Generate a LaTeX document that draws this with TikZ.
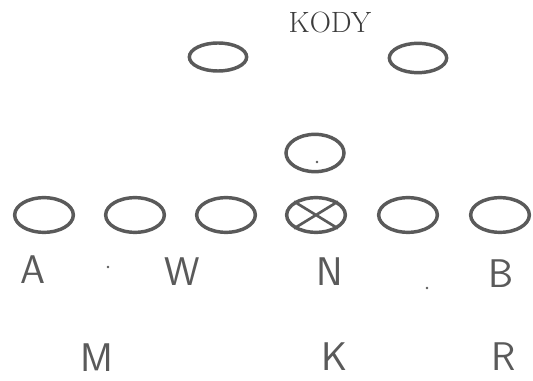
\documentclass[tikz,border=0pt]{standalone}
\usepackage{tikz}
\usetikzlibrary{shapes.geometric}
\definecolor{inkc}{HTML}{5A5A5A}
\definecolor{txtc}{HTML}{3C3C3C}
\tikzset{
  pl/.style={ellipse,draw=inkc,line width=2.6pt,inner sep=0pt,minimum width=44pt,minimum height=26pt},
  lb/.style={font=\sffamily\fontsize{30}{30}\selectfont,text=inkc,inner sep=0pt}
}
\newcommand{\spk}[2]{\fill[inkc] (#1,#2) circle (1pt);}

\begin{document}
\begin{tikzpicture}[x=0.75pt,y=-0.75pt]
\useasboundingbox (0,0) rectangle (533,381);
\node[font=\fontsize{22}{22}\selectfont,text=txtc,inner sep=0pt] (kody) at (330,22) {KODY};
\node[pl,minimum width=43pt,minimum height=21pt] (dl) at (218,57) {};
\node[pl,minimum width=43pt,minimum height=22pt] (dr) at (418,58) {};
\node[pl,minimum width=43.5pt,minimum height=28pt] (ctr) at (315,153) {};
\foreach \i/\x in {1/44,2/135,3/226,4/316,5/408,6/500}
  \node[pl] (o\i) at (\x,215) {};
\draw[inkc,line width=2pt] (o4.north west)--(o4.south east) (o4.north east)--(o4.south west);
\node[lb] (a) at (33,270) {A};
\node[lb] (w) at (182,272) {W};
\node[lb] (n) at (330,272) {N};
\node[lb] (b) at (501,274) {B};
\node[lb] (m) at (97,358) {M};
\node[lb] (k) at (335,357) {K};
\node[lb] (r) at (504,357) {R};
\spk{108}{267}\spk{427}{288}\spk{317}{162}
\end{tikzpicture}
\end{document}
